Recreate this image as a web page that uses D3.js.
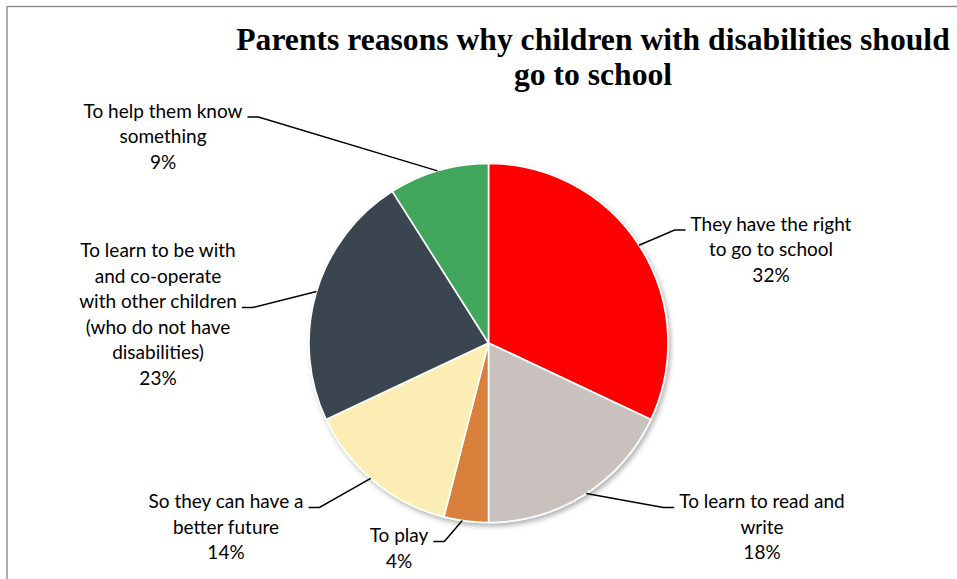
<!DOCTYPE html>
<html>
<head>
<meta charset="utf-8">
<script src="https://cdn.jsdelivr.net/npm/d3@7"></script>
<style>
  html, body { margin: 0; padding: 0; background: #fff; }
  svg { display: block; }
</style>
</head>
<body>
<svg id="chart" width="957" height="579"></svg>
<script>
// Survey answers: why parents think children with disabilities should go to school
const categories = [
  "They have the right to go to school",
  "To learn to read and write",
  "To play",
  "So they can have a better future",
  "To learn to be with and co-operate with other children (who do not have disabilities)",
  "To help them know something"
];
const percentages = [32, 18, 4, 14, 23, 9];
const sliceColors = ["#FF0000", "#C9C1BE", "#D9803D", "#FBEDB3", "#3A4450", "#3FA75B"];

// Wrapped label lines for each slice
const labelLines = [
  ["They have the right", "to go to school"],
  ["To learn to read and", "write"],
  ["To play"],
  ["So they can have a", "better future"],
  ["To learn to be with", "and co-operate", "with other children", "(who do not have", "disabilities)"],
  ["To help them know", "something"]
];

const titleLines = ["Parents reasons why children with disabilities should", "go to school"];

const svg = d3.select("#chart");
const W = 957, H = 579;
const cx = 488.5, cy = 343, R = 179.5;

// Chart frame
svg.append("rect")
  .attr("x", 7).attr("y", 6.5)
  .attr("width", W + 20).attr("height", H + 20)
  .attr("fill", "none")
  .attr("stroke", "#8a8a8a")
  .attr("stroke-width", 1.4);

// Title
const title = svg.append("text")
  .attr("text-anchor", "middle")
  .attr("font-family", "'Liberation Serif', 'DejaVu Serif', serif")
  .attr("font-weight", "bold")
  .attr("font-size", 32)
  .attr("fill", "#000");
title.append("tspan").attr("x", 593).attr("y", 50).text(titleLines[0]);
title.append("tspan").attr("x", 593).attr("y", 85).text(titleLines[1]);
// Fit the first title line to its box width
{
  const w = title.select("tspan").node().getComputedTextLength();
  const fs = 32 * 714 / w;
  title.attr("font-size", Math.min(fs, 34));
}

// Drop shadow under the pie
const defs = svg.append("defs");
const f = defs.append("filter").attr("id", "shadow")
  .attr("x", "-10%").attr("y", "-10%").attr("width", "130%").attr("height", "130%");
f.append("feDropShadow")
  .attr("dx", 2).attr("dy", 3).attr("stdDeviation", 2.5)
  .attr("flood-color", "#000").attr("flood-opacity", 0.3);

const data = categories.map((c, i) => ({ category: c, value: percentages[i], color: sliceColors[i], lines: labelLines[i] }));

const pie = d3.pie().sort(null).value(d => d.value);
const arcs = pie(data);
const arc = d3.arc().innerRadius(0).outerRadius(R);

const g = svg.append("g").attr("transform", `translate(${cx},${cy})`);
g.append("g").attr("filter", "url(#shadow)")
  .selectAll("path")
  .data(arcs)
  .join("path")
  .attr("d", arc)
  .attr("fill", d => d.data.color)
  .attr("stroke", "#fff")
  .attr("stroke-width", 1.6)
  .attr("stroke-linejoin", "round");

// Label anchors: text centre x, first baseline y, leader elbow side
const labelPos = [
  { x: 771, y: 230.5, side: "right", elbowLine: 0 },
  { x: 762, y: 508,   side: "right", elbowLine: 0 },
  { x: 399, y: 542,   side: "left",  elbowLine: 0 },
  { x: 226, y: 508,   side: "left",  elbowLine: 0 },
  { x: 158, y: 257,   side: "left",  elbowLine: 2 },
  { x: 163, y: 117.5, side: "left",  elbowLine: 0 }
];
// Where each leader meets the slice edge (angle at which it touches the pie)
const leaderAngleDeg = [57, 147, 188.4, 221, 286.7, 343.5];

const lineH = 25.5;
const labelFont = "Lato, 'Open Sans', sans-serif";
const labelG = svg.append("g");

arcs.forEach((a, i) => {
  const p = labelPos[i];
  const t = labelG.append("text")
    .attr("text-anchor", "middle")
    .attr("font-family", labelFont)
    .attr("font-size", 19)
    .attr("fill", "#000");
  const lines = a.data.lines.concat([d3.format(".0%")(a.data.value / 100)]);
  const spans = lines.map((ln, k) =>
    t.append("tspan").attr("x", p.x).attr("y", p.y + k * lineH).text(ln));

  // Leader line: from slice edge to an elbow beside the label line
  const elbowSpan = spans[p.elbowLine].node();
  const half = elbowSpan.getComputedTextLength() / 2;
  const by = p.y + p.elbowLine * lineH - 0.5;
  const ang = leaderAngleDeg[i] * Math.PI / 180;
  const ex = cx + Math.sin(ang) * R, ey = cy - Math.cos(ang) * R;
  let hx0, hx1;
  if (p.side === "right") {
    hx1 = p.x - half - 5; hx0 = hx1 - 11;
  } else {
    hx0 = p.x + half + 5; hx1 = hx0 + 11;
  }
  const pts = p.side === "right"
    ? [[ex, ey], [hx0, by], [hx1, by]]
    : [[hx0, by], [hx1, by], [ex, ey]];
  labelG.append("path")
    .attr("d", d3.line()(pts))
    .attr("fill", "none")
    .attr("stroke", "#000")
    .attr("stroke-width", 1.5);
});
</script>
</body>
</html>
